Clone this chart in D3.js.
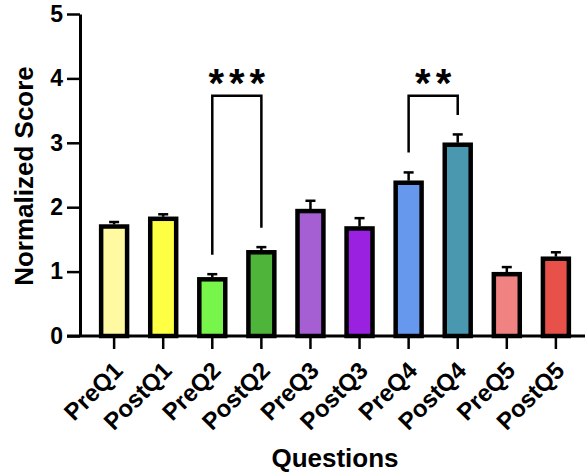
<!DOCTYPE html>
<head>
  <meta charset="utf-8">
  <script src="https://d3js.org/d3.v7.min.js"></script>
  <style>
    body { margin:0; background:#fff; }
    text { font-family: "Liberation Sans", Arial, sans-serif; font-weight: bold; }
  </style>
</head>
<body>
  <div class="chart"></div>
  <script>
    // values
    const questions = ["PreQ1", "PostQ1", "PreQ2", "PostQ2", "PreQ3", "PostQ3", "PreQ4", "PostQ4", "PreQ5", "PostQ5"];
    const scores = [1.70, 1.82, 0.88, 1.30, 1.94, 1.67, 2.38, 2.97, 0.96, 1.20];
    const errors = [0.07, 0.07, 0.08, 0.08, 0.16, 0.16, 0.16, 0.16, 0.11, 0.10];
    const colors = ["#fff9a2", "#ffff44", "#77f54b", "#4fb53a", "#a65fd2", "#9b21e0", "#6699ee", "#4a97b0", "#f08282", "#e8504a"];
    const yTicks = [0, 1, 2, 3, 4, 5];

    // significance brackets: from, to, left foot, right foot, top, label
    const brackets = [
      {a: "PreQ2", b: "PostQ2", left: 1.26, right: 1.68, top: 3.73, label: "***"},
      {a: "PreQ4", b: "PostQ4", left: 2.85, right: 3.43, top: 3.73, label: "**"}
    ];

    const W = 585, H = 474;
    const mLeft = 80, mBottom = 336, mTop = 14;

    const svg = d3.select(".chart").append("svg")
      .attr("width", W)
      .attr("height", H);

    const x = d3.scaleBand()
      .domain(questions)
      .range([mLeft, 590])
      .paddingInner(0.39)
      .paddingOuter(0.39);

    const y = d3.scaleLinear()
      .domain([0, 5])
      .range([mBottom, mTop]);

    // bars
    svg.selectAll(".bar")
      .data(questions)
      .enter()
      .append("rect")
      .attr("class", "bar")
      .attr("x", d => x(d) + 2)
      .attr("width", x.bandwidth() - 4)
      .attr("y", (d, i) => y(scores[i]))
      .attr("height", (d, i) => y(0) - y(scores[i]))
      .attr("fill", (d, i) => colors[i])
      .attr("stroke", "#000")
      .attr("stroke-width", 4.5);

    // error bars (upper only)
    const eb = svg.selectAll(".err")
      .data(questions)
      .enter()
      .append("g")
      .attr("class", "err")
      .attr("stroke", "#000")
      .attr("stroke-width", 2.5);
    eb.append("line")
      .attr("x1", d => x(d) + x.bandwidth() / 2)
      .attr("x2", d => x(d) + x.bandwidth() / 2)
      .attr("y1", (d, i) => y(scores[i]) - 2)
      .attr("y2", (d, i) => y(scores[i] + errors[i]));
    eb.append("line")
      .attr("x1", d => x(d) + x.bandwidth() / 2 - 5)
      .attr("x2", d => x(d) + x.bandwidth() / 2 + 5)
      .attr("y1", (d, i) => y(scores[i] + errors[i]))
      .attr("y2", (d, i) => y(scores[i] + errors[i]));

    // x axis
    const xAxis = svg.append("g")
      .attr("transform", "translate(0," + mBottom + ")")
      .call(d3.axisBottom(x).tickSize(13).tickSizeOuter(0));
    xAxis.select(".domain").remove();
    xAxis.append("line")
      .attr("x1", mLeft - 13).attr("x2", W)
      .attr("stroke", "#000").attr("stroke-width", 3);
    xAxis.selectAll(".tick line").attr("stroke-width", 2.5);
    xAxis.selectAll("text")
      .attr("font-size", 24)
      .attr("fill", "#000")
      .attr("text-anchor", "end")
      .attr("dy", 0)
      .attr("y", 0)
      .attr("transform", "translate(10,36) rotate(-45)");

    // y axis
    const yAxis = svg.append("g")
      .attr("transform", "translate(" + mLeft + ",0)")
      .call(d3.axisLeft(y).tickValues(yTicks).tickFormat(d3.format("d"))
        .tickSize(13).tickPadding(4).tickSizeOuter(0));
    yAxis.select(".domain").attr("stroke-width", 3);
    yAxis.selectAll(".tick line").attr("stroke-width", 2.5);
    yAxis.selectAll("text")
      .attr("font-size", 23)
      .attr("fill", "#000");

    // significance brackets
    brackets.forEach(b => {
      const xa = x(b.a) + x.bandwidth() / 2, xb = x(b.b) + x.bandwidth() / 2;
      svg.append("path")
        .attr("d", d3.line()([[xa, y(b.left)], [xa, y(b.top)], [xb, y(b.top)], [xb, y(b.right)]]))
        .attr("fill", "none")
        .attr("stroke", "#000")
        .attr("stroke-width", 2.5);
      svg.append("text")
        .attr("x", (xa + xb) / 2 + 2.5)
        .attr("y", y(b.top) + 1)
        .attr("text-anchor", "middle")
        .attr("font-size", 40)
        .attr("letter-spacing", 5)
        .text(b.label);
    });

    // axis titles
    svg.append("text")
      .attr("transform", "translate(33,176) rotate(-90)")
      .attr("text-anchor", "middle")
      .attr("font-size", 26)
      .text("Normalized Score");

    svg.append("text")
      .attr("x", 335)
      .attr("y", 467)
      .attr("text-anchor", "middle")
      .attr("font-size", 26)
      .text("Questions");
  </script>
</body>
